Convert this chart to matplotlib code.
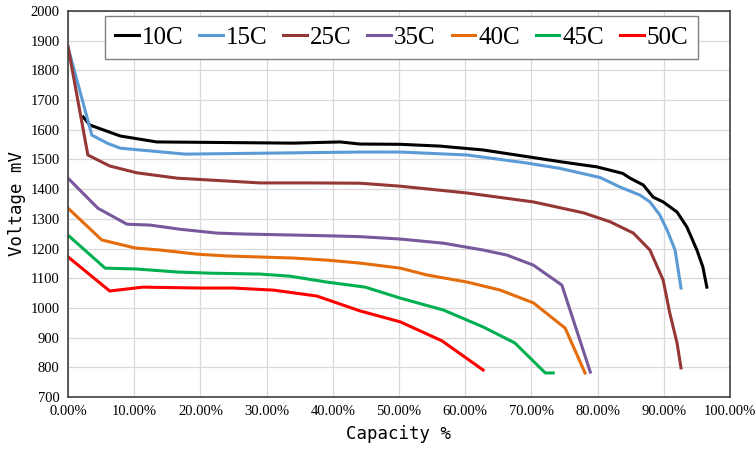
import matplotlib
matplotlib.use('Agg')
import matplotlib.pyplot as plt
from matplotlib.ticker import FuncFormatter, MultipleLocator

# discharge curves (capacity %, voltage mV)
cap_10c = [2.3, 3.3, 7.9, 13.4, 24.0, 34.0, 41.1, 44.1, 50.2, 56.2, 62.7, 69.8,
           74.8, 79.9, 83.8, 84.9, 86.9, 88.4, 89.9, 92.0, 93.5, 95.0, 95.9, 96.5]
v_10c = [1643, 1616, 1579, 1559, 1557, 1555, 1559, 1552, 1551, 1545, 1532, 1508,
         1491, 1475, 1453, 1437, 1414, 1373, 1357, 1323, 1272, 1195, 1138, 1070]

cap_15c = [0.0, 3.6, 5.9, 7.9, 17.7, 29.0, 44.1, 50.2, 60.3, 69.3, 74.3, 80.4,
           83.4, 86.4, 87.9, 89.4, 90.5, 91.7, 92.6]
v_15c = [1878, 1582, 1555, 1538, 1518, 1521, 1525, 1525, 1515, 1488, 1470, 1439,
         1407, 1380, 1357, 1313, 1262, 1195, 1067]

cap_25c = [0.0, 3.0, 6.3, 10.4, 16.5, 29.0, 36.6, 44.1, 50.2, 60.3, 70.3, 77.9,
           81.9, 85.4, 87.9, 89.9, 90.9, 92.0, 92.6]
v_25c = [1880, 1515, 1478, 1455, 1437, 1421, 1421, 1420, 1410, 1387, 1357, 1320,
         1290, 1252, 1195, 1094, 983, 882, 798]

cap_35c = [0.0, 4.5, 8.9, 12.4, 16.9, 22.5, 26.4, 39.1, 44.1, 50.2, 56.7, 62.7,
           66.3, 70.3, 74.6, 78.9]
v_35c = [1437, 1336, 1282, 1279, 1265, 1252, 1249, 1243, 1240, 1232, 1218, 1195,
         1178, 1144, 1077, 784]

cap_40c = [0.0, 5.1, 10.1, 13.9, 19.5, 24.0, 34.0, 39.1, 44.1, 50.2, 54.2, 60.3,
           65.3, 70.3, 75.1, 78.1]
v_40c = [1336, 1229, 1202, 1195, 1181, 1175, 1168, 1161, 1151, 1134, 1111, 1087,
         1060, 1017, 932, 781]

cap_45c = [0.0, 5.6, 10.4, 16.5, 21.5, 29.0, 33.5, 39.1, 44.9, 50.2, 56.7, 62.7,
           67.5, 72.1, 73.3]
v_45c = [1245, 1134, 1131, 1121, 1117, 1114, 1107, 1087, 1070, 1033, 993, 936,
         882, 781, 781]

cap_50c = [0.0, 6.3, 11.3, 19.9, 24.9, 31.0, 37.6, 41.5, 44.1, 50.2, 56.5, 62.7]
v_50c = [1172, 1057, 1070, 1067, 1067, 1060, 1040, 1010, 990, 953, 889, 791]

labels = ['10C', '15C', '25C', '35C', '40C', '45C', '50C']
colors = ['#000000', '#5b9bd5', '#953735', '#77599b', '#e46c0a', '#00b050', '#ff0000']

series = [(cap_10c, v_10c), (cap_15c, v_15c), (cap_25c, v_25c), (cap_35c, v_35c),
          (cap_40c, v_40c), (cap_45c, v_45c), (cap_50c, v_50c)]

fig = plt.figure(figsize=(7.56, 4.51), dpi=100)
ax = fig.add_axes([68 / 756, 54 / 451, 662 / 756, 386 / 451])

for (x, y), lab, c in zip(series, labels, colors):
    ax.plot(x, y, color=c, lw=2.2, label=lab, solid_joinstyle='round')

ax.set_xlim(0, 100)
ax.set_ylim(700, 2000)
ax.xaxis.set_major_locator(MultipleLocator(10))
ax.yaxis.set_major_locator(MultipleLocator(100))
ax.xaxis.set_major_formatter(FuncFormatter(lambda v, p: f'{v:.2f}%'))
ax.grid(True, color='#d9d9d9', lw=0.9)
ax.set_axisbelow(True)
ax.tick_params(length=0, pad=6)
for lbl in ax.get_xticklabels() + ax.get_yticklabels():
    lbl.set_fontfamily('Liberation Serif')
    lbl.set_fontsize(10.5)
for s in ax.spines.values():
    s.set_color('#404040')
    s.set_linewidth(1.2)

ax.set_xlabel('Capacity %', family='DejaVu Sans Mono', fontsize=12.5, labelpad=5)
ax.set_ylabel('Voltage mV', family='DejaVu Sans Mono', fontsize=12.5, labelpad=3)

leg = ax.legend(loc='upper left', bbox_to_anchor=(37 / 662, 381 / 386), borderaxespad=0,
                ncol=7, prop={'family': 'Liberation Serif', 'size': 18},
                handlelength=0.95, handletextpad=0.12, columnspacing=0.63,
                fancybox=False, framealpha=1, edgecolor='#808080',
                borderpad=0.4)
leg.get_frame().set_linewidth(1.0)

fig.savefig('out.png', dpi=100)
